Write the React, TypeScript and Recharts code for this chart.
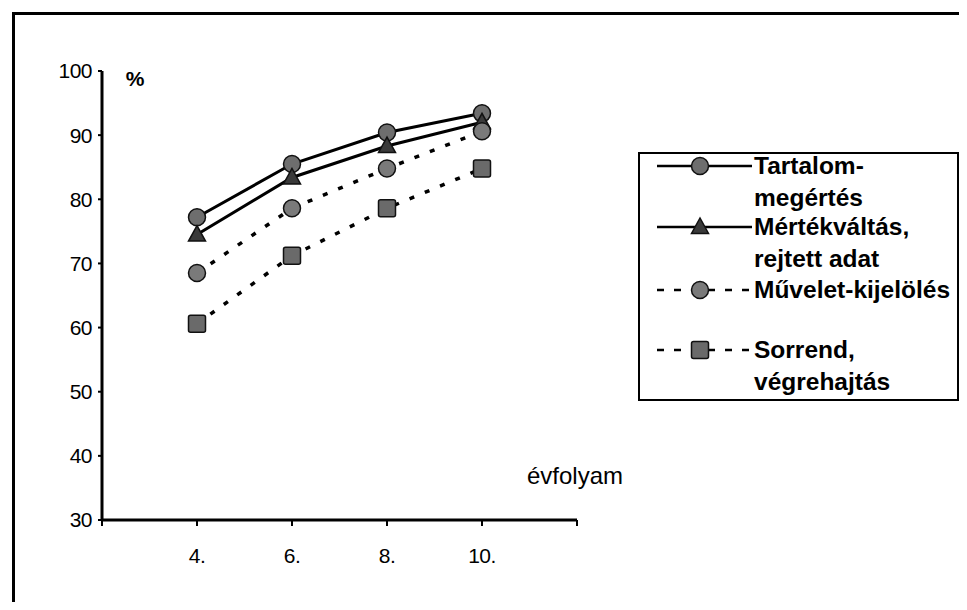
import React from 'react';
import { LineChart, Line, XAxis, YAxis, Legend } from 'recharts';

const grades = [4, 6, 8, 10];
const tartalom = [77.2, 85.5, 90.4, 93.4];
const mertek = [74.5, 83.4, 88.3, 92.0];
const muvelet = [68.5, 78.6, 84.8, 90.6];
const sorrend = [60.6, 71.2, 78.6, 84.8];

const yTicks = [30, 40, 50, 60, 70, 80, 90, 100];
const xTicks = [2, 4, 6, 8, 10, 12];
const xLabelled = [4, 6, 8, 10];

const seriesKeys = ['tartalom', 'mertek', 'muvelet', 'sorrend'];
const seriesNames = ['Tartalom-megértés', 'Mértékváltás, rejtett adat', 'Művelet-kijelölés', 'Sorrend, végrehajtás'];
const legendLines = [
  ['Tartalom-', 'megértés'],
  ['Mértékváltás,', 'rejtett adat'],
  ['Művelet-kijelölés'],
  ['Sorrend,', 'végrehajtás'],
];
const shapes = ['circle', 'triangle', 'circle', 'square'];
const fills = ['#6e6e6e', '#3a3a3a', '#7a7a7a', '#6a6a6a'];
const dashes = [undefined, undefined, '5 11.5', '5 11.5'];
const legendDashes = [undefined, undefined, '7 10', '7 10'];

const data = grades.map((g, i) => ({
  g,
  tartalom: tartalom[i],
  mertek: mertek[i],
  muvelet: muvelet[i],
  sorrend: sorrend[i],
}));

const FONT = '"Liberation Sans", Arial, sans-serif';

function Marker({ shape, cx, cy, fill }: { shape: string; cx: number; cy: number; fill: string }) {
  if (shape === 'triangle') {
    return (
      <polygon
        points={`${cx},${cy - 9} ${cx - 8.5},${cy + 6.5} ${cx + 8.5},${cy + 6.5}`}
        fill={fill}
        stroke="#111"
        strokeWidth={1.5}
      />
    );
  }
  if (shape === 'square') {
    return <rect x={cx - 8.5} y={cy - 8.5} width={17} height={17} rx={2} fill={fill} stroke="#111" strokeWidth={1.5} />;
  }
  return <circle cx={cx} cy={cy} r={8.5} fill={fill} stroke="#111" strokeWidth={1.5} />;
}

const legendTops = [-4.5, 57, 120, 180];

function renderLegend(props: any) {
  const payload = props.payload || [];
  return (
    <div
      style={{
        width: 317,
        height: 245,
        border: '2px solid #000',
        position: 'relative',
        background: '#fff',
        fontFamily: FONT,
        fontWeight: 'bold',
        fontSize: 24.5,
        color: '#000',
      }}
    >
      {payload.map((entry: any, i: number) => (
        <div key={i} style={{ position: 'absolute', left: 0, top: legendTops[i] }}>
          <svg width={118} height={32} style={{ position: 'absolute', left: 0, top: 0 }}>
            <line x1={17} x2={112} y1={16} y2={16} stroke="#000" strokeWidth={2.5} strokeDasharray={legendDashes[i]} />
            <Marker shape={shapes[i]} cx={60} cy={16} fill={fills[i]} />
          </svg>
          <div style={{ position: 'absolute', left: 114, top: 0, whiteSpace: 'nowrap', lineHeight: '32px' }}>
            {legendLines[i].map((l, j) => (
              <div key={j}>{l}</div>
            ))}
          </div>
        </div>
      ))}
    </div>
  );
}

export default function App() {
  return (
    <div style={{ position: 'relative', width: 951, height: 594 }}>
      <style>{'body{overflow:hidden;background:#fff}'}</style>
      <div
        style={{
          position: 'absolute',
          left: 4,
          top: 4,
          width: 960,
          height: 600,
          borderTop: '3px solid #000',
          borderLeft: '3px solid #000',
        }}
      />
      <LineChart
        width={951}
        height={594}
        data={data}
        margin={{ top: 63, right: 382, bottom: 52, left: 34 }}
        style={{ fontFamily: FONT }}
      >
        <XAxis
          dataKey="g"
          type="number"
          domain={[2, 12]}
          ticks={xTicks}
          tickFormatter={(v: number) => (xLabelled.includes(v) ? `${v}.` : '')}
          axisLine={{ stroke: '#000', strokeWidth: 3 }}
          tickLine={{ stroke: '#000', strokeWidth: 2 }}
          tickSize={6}
          tickMargin={22}
          tick={{ fill: '#000', fontSize: 21, fontFamily: FONT, letterSpacing: -0.5 }}
          height={30}
          allowDataOverflow
          label={{
            content: (p: any) => {
              const vb = p.viewBox || {};
              return (
                <text x={519} y={vb.y - 45} fontSize={24} fontFamily={FONT} fill="#000" dominantBaseline="central">
                  évfolyam
                </text>
              );
            },
          }}
        />
        <YAxis
          type="number"
          domain={[30, 100]}
          ticks={yTicks}
          axisLine={{ stroke: '#000', strokeWidth: 3 }}
          tickLine={{ stroke: '#000', strokeWidth: 2 }}
          tickSize={4}
          tickMargin={6}
          tick={{ fill: '#000', fontSize: 21, fontFamily: FONT, letterSpacing: -0.5 }}
          width={60}
          allowDataOverflow
          label={{
            content: (p: any) => {
              const vb = p.viewBox || {};
              return (
                <text
                  x={vb.x + vb.width + 33}
                  y={vb.y + 7}
                  fontSize={21}
                  fontWeight="bold"
                  fontFamily={FONT}
                  fill="#000"
                  textAnchor="middle"
                  dominantBaseline="central"
                >
                  %
                </text>
              );
            },
          }}
        />
        <Legend
          layout="horizontal"
          verticalAlign="middle"
          align="center"
          content={renderLegend}
          wrapperStyle={{ left: 630, top: 144, width: 321, height: 249 }}
        />
        {seriesKeys.map((k, i) => (
          <Line
            key={k}
            dataKey={k}
            name={seriesNames[i]}
            stroke="#000"
            strokeWidth={dashes[i] ? 3.5 : 3}
            strokeDasharray={dashes[i]}
            isAnimationActive={false}
            dot={(p: any) => <Marker key={`${k}-${p.index}`} shape={shapes[i]} cx={p.cx} cy={p.cy} fill={fills[i]} />}
            activeDot={false}
          />
        ))}
      </LineChart>
    </div>
  );
}
